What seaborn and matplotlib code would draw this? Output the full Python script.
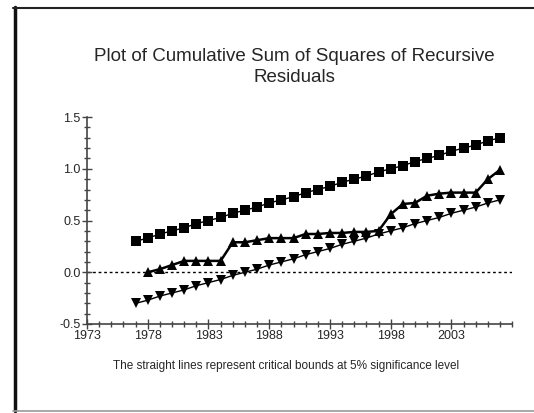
import numpy as np
import pandas as pd
import matplotlib
matplotlib.use("Agg")
import matplotlib.pyplot as plt
import seaborn as sns
from matplotlib.ticker import MultipleLocator
from matplotlib.lines import Line2D

# critical bounds (squares = upper, down triangles = lower), 1977-2007
bound_years = list(range(1977, 2008))
upper = [0.30, 0.33, 0.37, 0.40, 0.43, 0.47, 0.50, 0.53, 0.57, 0.60, 0.63,
         0.67, 0.70, 0.73, 0.77, 0.80, 0.83, 0.87, 0.90, 0.93, 0.97, 1.00,
         1.03, 1.07, 1.10, 1.13, 1.17, 1.20, 1.23, 1.27, 1.30]
lower = [-0.30, -0.27, -0.23, -0.20, -0.17, -0.13, -0.10, -0.07, -0.03, 0.00,
         0.03, 0.07, 0.10, 0.13, 0.17, 0.20, 0.23, 0.27, 0.30, 0.33, 0.37,
         0.40, 0.43, 0.47, 0.50, 0.53, 0.57, 0.60, 0.63, 0.67, 0.70]

# cumulative sum of squares, 1978-2007
cusq_years = list(range(1978, 2008))
cusq = [0.00, 0.03, 0.07, 0.11, 0.11, 0.11, 0.11, 0.29, 0.29, 0.31, 0.33,
        0.33, 0.33, 0.37, 0.37, 0.38, 0.38, 0.39, 0.39, 0.40, 0.56, 0.66,
        0.67, 0.74, 0.76, 0.77, 0.77, 0.77, 0.90, 0.99]

x_ticks = [1973, 1978, 1983, 1988, 1993, 1998, 2003]
y_ticks = [-0.5, 0.0, 0.5, 1.0, 1.5]

sns.set_style("white")
plt.rcParams['font.family'] = ['Liberation Sans Narrow', 'Liberation Sans', 'DejaVu Sans']

df_b = pd.DataFrame({"year": bound_years, "upper": upper, "lower": lower})
df_c = pd.DataFrame({"year": cusq_years, "cusq": cusq})

fig = plt.figure(figsize=(5.34, 4.13), dpi=100)
ax = fig.add_axes([0.163, 0.2155, 0.796, 0.501])

sns.lineplot(data=df_b, x="year", y="upper", ax=ax, color="black", lw=1,
             marker="s", markersize=6.5, markeredgewidth=0)
sns.lineplot(data=df_b, x="year", y="lower", ax=ax, color="black", lw=1,
             marker="v", markersize=6.5, markeredgewidth=0)
sns.lineplot(data=df_c, x="year", y="cusq", ax=ax, color="black", lw=1.8,
             marker="^", markersize=6.5, markeredgewidth=0)
ax.axhline(0, color="black", lw=1, ls=(0, (2, 2)), zorder=0)

ax.set_xlim(1973, 2008)
ax.set_ylim(-0.5, 1.5)
ax.set_xticks(x_ticks)
ax.set_yticks(y_ticks)
ax.set_yticklabels([f"{v:.1f}" for v in y_ticks])
ax.xaxis.set_minor_locator(MultipleLocator(1))
ax.yaxis.set_minor_locator(MultipleLocator(0.1))
ax.tick_params(which="major", direction="inout", length=7, width=1, color="#444444",
               labelsize=9, pad=1)
ax.tick_params(which="minor", direction="inout", length=4, width=1, color="#444444")
ax.tick_params(axis="x", which="both", bottom=True)
ax.tick_params(axis="y", which="both", left=True)
ax.set_xlabel("")
ax.set_ylabel("")
for s in ["top", "right"]:
    ax.spines[s].set_visible(False)
for s in ["left", "bottom"]:
    ax.spines[s].set_color("#444444")
    ax.spines[s].set_linewidth(1.2)

fig.text(0.552, 0.837, "Plot of Cumulative Sum of Squares of Recursive\nResiduals",
         ha="center", va="center", fontsize=13.5, linespacing=1.33)
fig.text(0.535, 0.115, "The straight lines represent critical bounds at 5% significance level",
         ha="center", va="center", fontsize=8.5)

# outer frame
fig.add_artist(Line2D([14.5 / 534, 14.5 / 534], [1 - 7 / 413, 1 - 411 / 413],
                      transform=fig.transFigure, color="#111111", lw=2.5))
fig.add_artist(Line2D([13 / 534, 1.0], [1 - 7.5 / 413, 1 - 7.5 / 413],
                      transform=fig.transFigure, color="#222222", lw=1.5))
fig.add_artist(Line2D([13 / 534, 1.0], [1 - 411 / 413, 1 - 411 / 413],
                      transform=fig.transFigure, color="#999999", lw=1.2))

fig.savefig("out.png", dpi=100)
